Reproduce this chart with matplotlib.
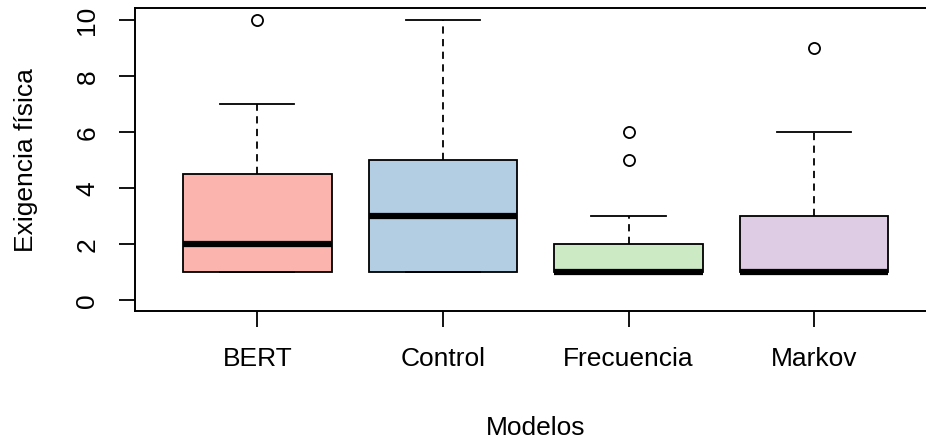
import matplotlib
matplotlib.use("Agg")
import matplotlib.pyplot as plt

# datos
modelos = ["BERT", "Control", "Frecuencia", "Markov"]
minimos = [1, 1, 1, 1]
q1 = [1, 1, 1, 1]
medianas = [2, 3, 1, 1]
q3 = [4.5, 5, 2, 3]
maximos = [7, 10, 3, 6]
atipicos = [[10], [], [5, 6], [9]]
colores = ["#FBB4AE", "#B3CDE3", "#CCEBC5", "#DECBE4"]

plt.rcParams['font.family'] = ['Liberation Sans', 'DejaVu Sans']

fig = plt.figure(figsize=(9.26, 4.39), dpi=100)
# la imagen original esta recortada por la derecha: el marco sale del lienzo
izq, der = 134.8 / 926, 936.6 / 926
abajo, arriba = 1 - 311.7 / 439, 1 - 9.3 / 439
ax = fig.add_axes([izq, abajo, der - izq, arriba - abajo])

stats = []
for i in range(len(modelos)):
    stats.append({
        "label": modelos[i],
        "whislo": minimos[i],
        "q1": q1[i],
        "med": medianas[i],
        "q3": q3[i],
        "whishi": maximos[i],
        "fliers": atipicos[i],
    })

bp = ax.bxp(stats, positions=range(1, len(modelos) + 1), widths=0.8,
            patch_artist=True, showfliers=True, capwidths=0.4,
            boxprops=dict(linewidth=1.3, edgecolor="black"),
            medianprops=dict(linewidth=4.5, color="black", solid_capstyle="butt"),
            whiskerprops=dict(linewidth=1.3, linestyle=(0, (4, 3)), color="black"),
            capprops=dict(linewidth=1.3, color="black"),
            flierprops=dict(marker="o", markersize=8, markerfacecolor="none",
                            markeredgecolor="black", markeredgewidth=1.3))

for caja, c in zip(bp["boxes"], colores):
    caja.set_facecolor(c)

ax.set_xlim(0.34, 4.66)
ax.set_ylim(-0.4, 10.4)
ax.set_yticks([0, 2, 4, 6, 8, 10])
ax.set_xticks(range(1, len(modelos) + 1))
ax.set_xticklabels(modelos)

for s in ax.spines.values():
    s.set_linewidth(1.4)

ax.tick_params(axis="both", length=11.5, width=1.3, labelsize=19, colors="black")
ax.tick_params(axis="x", pad=14)
ax.tick_params(axis="y", pad=14)
for t in ax.get_yticklabels():
    t.set_rotation(90)
    t.set_va("center")

ax.set_xlabel("Modelos", fontsize=19, labelpad=32)
ax.set_ylabel("Exigencia física", fontsize=19, labelpad=27)

fig.savefig("out.png", dpi=100)
